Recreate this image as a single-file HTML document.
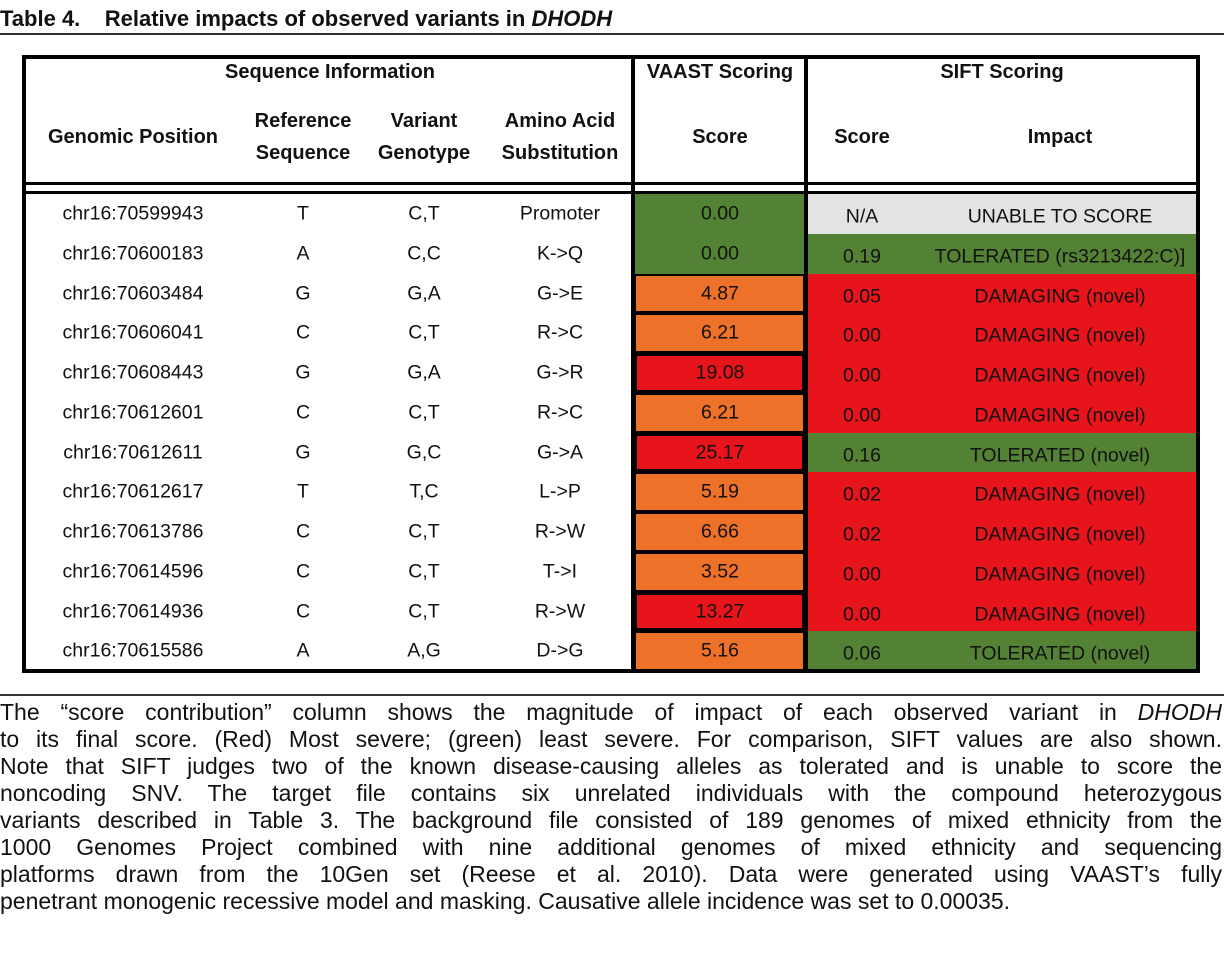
<!DOCTYPE html>
<html><head><meta charset="utf-8">
<style>
body{margin:0;width:1224px;height:964px;background:#fff;position:relative;overflow:hidden;font-family:"Liberation Sans",sans-serif;color:#111}
.a{position:absolute}
.t{position:absolute;transform:translate(-50%,-50%);white-space:nowrap;font-size:19.5px}
.h{position:absolute;transform:translate(-50%,-50%);white-space:nowrap;font-size:20px;font-weight:bold;text-align:center;line-height:32px}
.ln{position:absolute;background:#000}
.cap{position:absolute;left:0;width:1222px;font-size:23px;line-height:27px;text-align:justify;text-align-last:justify;white-space:nowrap;overflow:visible}
</style></head><body>
<div class="a" style="left:0;top:6px;font-size:22px;font-weight:bold;white-space:nowrap">Table 4.&nbsp;&nbsp;&nbsp;&nbsp;Relative impacts of observed variants in <i>DHODH</i></div>
<div class="ln" style="left:0;top:33px;width:1224px;height:2px;background:#333"></div>

<div id="cells"></div>

<div class="ln" style="left:22px;top:55px;width:1178px;height:4px"></div>
<div class="ln" style="left:22px;top:669px;width:1178px;height:4px"></div>
<div class="ln" style="left:22px;top:55px;width:4px;height:618px"></div>
<div class="ln" style="left:1196px;top:55px;width:4px;height:618px"></div>
<div class="ln" style="left:631px;top:55px;width:4px;height:618px"></div>
<div class="ln" style="left:804px;top:55px;width:4px;height:618px"></div>
<div class="ln" style="left:22px;top:182px;width:1178px;height:3px"></div>
<div class="ln" style="left:22px;top:191px;width:1178px;height:3px"></div>

<div class="h" style="left:330px;top:72px">Sequence Information</div>
<div class="h" style="left:720px;top:72px">VAAST Scoring</div>
<div class="h" style="left:1002px;top:72px">SIFT Scoring</div>
<div class="h" style="left:133px;top:137px">Genomic Position</div>
<div class="h" style="left:303px;top:137px">Reference<br>Sequence</div>
<div class="h" style="left:424px;top:137px">Variant<br>Genotype</div>
<div class="h" style="left:560px;top:137px">Amino Acid<br>Substitution</div>
<div class="h" style="left:720px;top:137px">Score</div>
<div class="h" style="left:862px;top:137px">Score</div>
<div class="h" style="left:1060px;top:137px">Impact</div>

<div id="rows"></div>

<div class="ln" style="left:0;top:694px;width:1224px;height:2px;background:#333"></div>
<div class="cap" style="top:699px">The “score contribution” column shows the magnitude of impact of each observed variant in <i>DHODH</i></div>
<div class="cap" style="top:726px">to its final score. (Red) Most severe; (green) least severe. For comparison, SIFT values are also shown.</div>
<div class="cap" style="top:753px">Note that SIFT judges two of the known disease-causing alleles as tolerated and is unable to score the</div>
<div class="cap" style="top:780px">noncoding SNV. The target file contains six unrelated individuals with the compound heterozygous</div>
<div class="cap" style="top:807px">variants described in Table 3. The background file consisted of 189 genomes of mixed ethnicity from the</div>
<div class="cap" style="top:834px">1000 Genomes Project combined with nine additional genomes of mixed ethnicity and sequencing</div>
<div class="cap" style="top:861px">platforms drawn from the 10Gen set (Reese et al. 2010). Data were generated using VAAST’s fully</div>
<div class="cap" style="top:888px;text-align-last:left">penetrant monogenic recessive model and masking. Causative allele incidence was set to 0.00035.</div>

<script>
(function(){
var G="#548235",O="#ED7128",R="#E8141B",Y="#E3E3E3";
var d=[
["chr16:70599943","T","C,T","Promoter","0.00",G,"N/A","UNABLE TO SCORE",Y],
["chr16:70600183","A","C,C","K->Q","0.00",G,"0.19","TOLERATED (rs3213422:C)]",G],
["chr16:70603484","G","G,A","G->E","4.87",O,"0.05","DAMAGING (novel)",R],
["chr16:70606041","C","C,T","R->C","6.21",O,"0.00","DAMAGING (novel)",R],
["chr16:70608443","G","G,A","G->R","19.08",R,"0.00","DAMAGING (novel)",R],
["chr16:70612601","C","C,T","R->C","6.21",O,"0.00","DAMAGING (novel)",R],
["chr16:70612611","G","G,C","G->A","25.17",R,"0.16","TOLERATED (novel)",G],
["chr16:70612617","T","T,C","L->P","5.19",O,"0.02","DAMAGING (novel)",R],
["chr16:70613786","C","C,T","R->W","6.66",O,"0.02","DAMAGING (novel)",R],
["chr16:70614596","C","C,T","T->I","3.52",O,"0.00","DAMAGING (novel)",R],
["chr16:70614936","C","C,T","R->W","13.27",R,"0.00","DAMAGING (novel)",R],
["chr16:70615586","A","A,G","D->G","5.16",O,"0.06","TOLERATED (novel)",G]];
var c="",r="";
for(var i=0;i<12;i++){
 var yt=194+i*39.75,h=39.75,cy=yt+20,x=d[i];
 var bd=x[5]==R?"box-sizing:border-box;border:3px solid #000;":(x[5]==O?"box-sizing:border-box;border:2px solid #000;":"");
 c+='<div class="a" style="left:634px;top:'+yt+'px;width:171px;height:'+h+'px;background:'+x[5]+';'+bd+'"></div>';
 c+='<div class="a" style="left:807px;top:'+yt+'px;width:390px;height:'+h+'px;background:'+x[8]+'"></div>';
 var v=[[133,x[0]],[303,x[1]],[424,x[2]],[560,x[3]],[720,x[4]],[862,x[6]],[1060,x[7]]];
 for(var j=0;j<7;j++){r+='<div class="t" style="left:'+v[j][0]+'px;top:'+(cy+(j>=5?3:0))+'px">'+v[j][1].replace(/>/g,"&gt;")+'</div>';}
}
document.getElementById("cells").innerHTML=c;
document.getElementById("rows").innerHTML=r;
})();
</script>
</body></html>
